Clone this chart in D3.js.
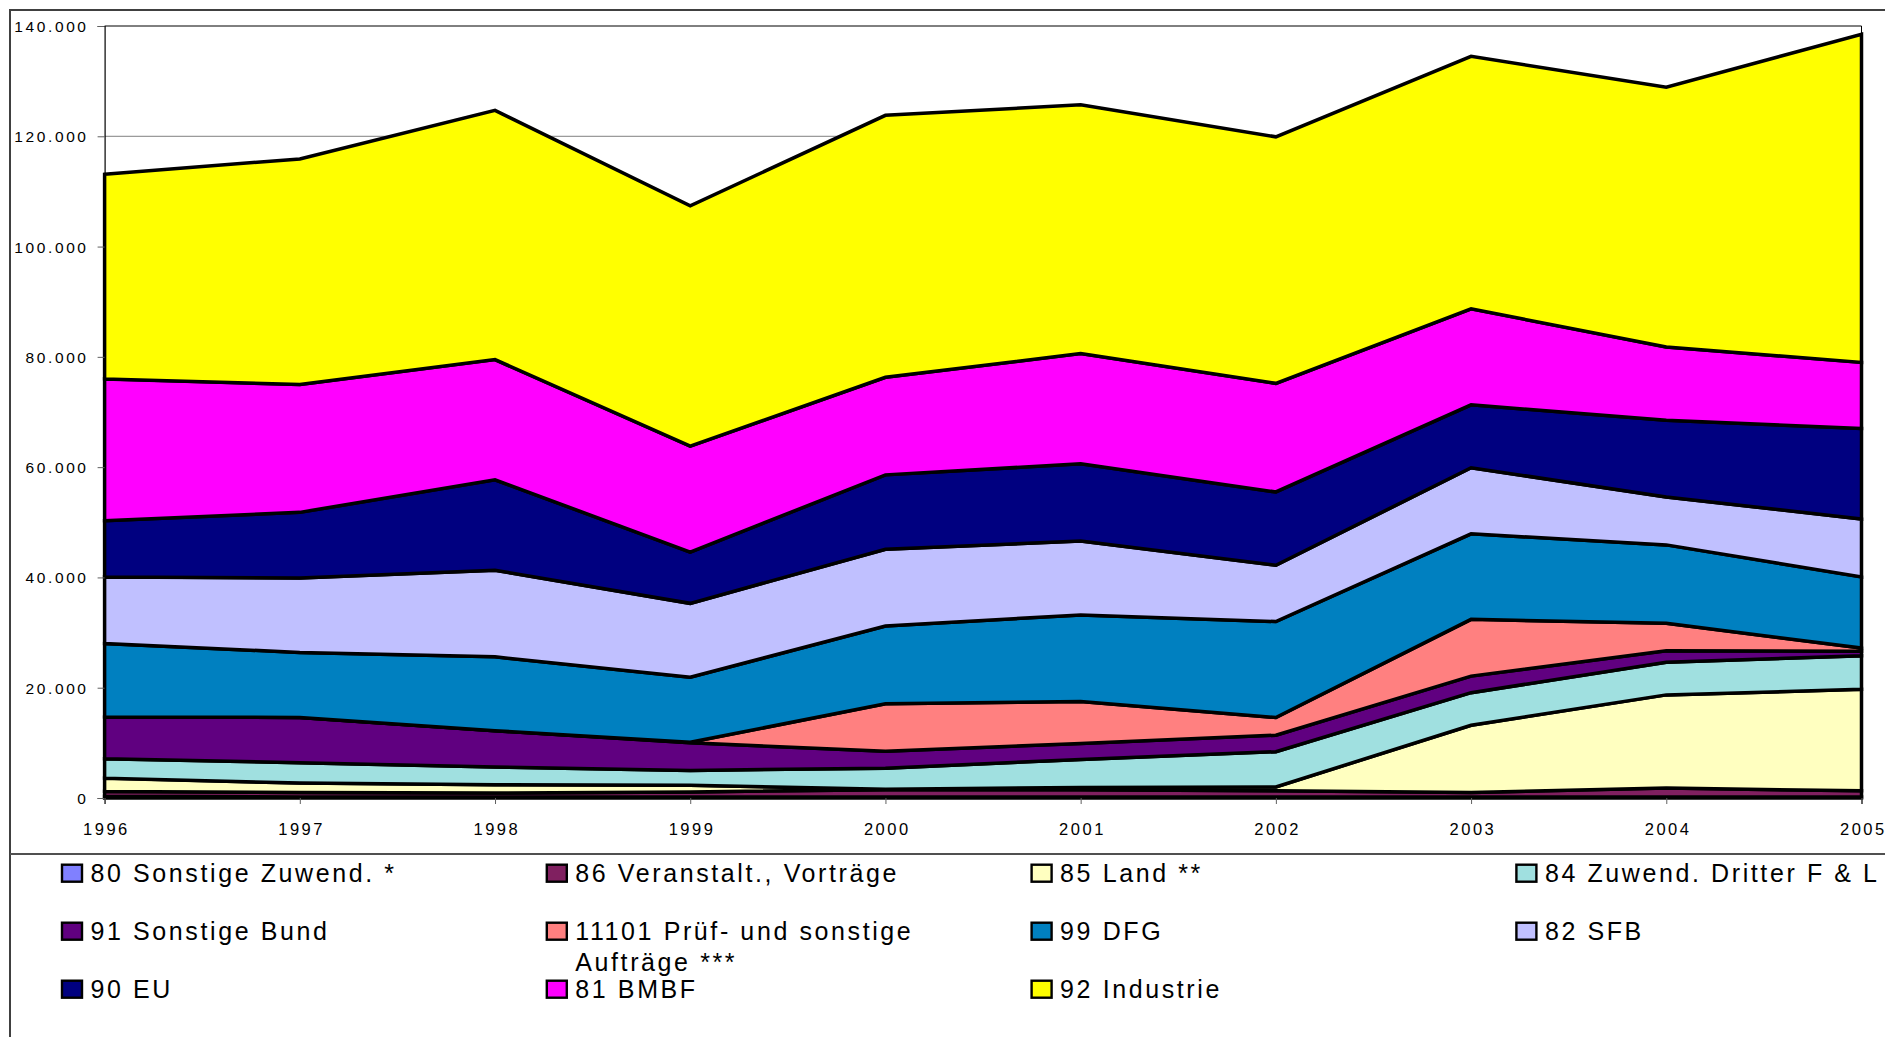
<!DOCTYPE html>
<html>
<head>
<meta charset="utf-8">
<script src="https://cdn.jsdelivr.net/npm/d3@7"></script>
<style>
  html, body { margin: 0; padding: 0; background: #fff; overflow: hidden; }
  svg { display: block; font-family: "Liberation Sans", Arial, sans-serif; }
</style>
</head>
<body>
<svg id="chart" width="1885" height="1037"></svg>
<script>
// values in EUR (stacked bottom -> top)
const years = [1996, 1997, 1998, 1999, 2000, 2001, 2002, 2003, 2004, 2005];
const yTicks = [0, 20000, 40000, 60000, 80000, 100000, 120000, 140000];

const sonstigeZuwend = [300, 200, 200, 200, 200, 200, 200, 200, 200, 200];
const veranstalt     = [900, 800, 700, 900, 1300, 1300, 1100, 800, 1600, 1100];
const land           = [2400, 1700, 1500, 1200, 100, 400, 700, 12200, 16900, 18400];
const zuwendDritter  = [3500, 3700, 3200, 2700, 3800, 5100, 6400, 5900, 5900, 6100];
const sonstigeBund   = [7600, 8200, 6600, 5000, 3100, 2900, 3000, 3000, 2100, 800];
const pruefAuftraege = [0, 0, 0, 100, 8600, 7600, 3200, 10300, 5000, 600];
const dfg            = [13300, 11800, 13400, 11800, 14100, 15700, 17400, 15500, 14200, 12900];
const sfb            = [12100, 13500, 15700, 13400, 13900, 13400, 10200, 12000, 8700, 10500];
const eu             = [10200, 11900, 16400, 9300, 13500, 14000, 13300, 11400, 13900, 16400];
const bmbf           = [25700, 23200, 21800, 19200, 17700, 20000, 19700, 17400, 13300, 12000];
const industrie      = [37100, 40900, 45200, 43600, 47500, 45100, 44700, 45800, 47100, 59500];

const seriesNames = [
  "80 Sonstige Zuwend. *", "86 Veranstalt., Vorträge", "85 Land **", "84 Zuwend. Dritter F & L",
  "91 Sonstige Bund", "11101 Prüf- und sonstige\nAufträge ***", "99 DFG", "82 SFB",
  "90 EU", "81 BMBF", "92 Industrie"
];
const seriesValues = [
  sonstigeZuwend, veranstalt, land, zuwendDritter, sonstigeBund, pruefAuftraege,
  dfg, sfb, eu, bmbf, industrie
];
const seriesColors = [
  "#8080FF", "#802060", "#FFFFC0", "#A0E0E0", "#600080", "#FF8080",
  "#0080C0", "#C0C0FF", "#000080", "#FF00FF", "#FFFF00"
];

const rows = years.map((year, i) => {
  const row = { year };
  seriesNames.forEach((name, s) => { row[name] = seriesValues[s][i]; });
  return row;
});

const deFormat = d3.formatLocale({ decimal: ",", thousands: ".", grouping: [3], currency: ["", " €"] }).format(",");

const svg = d3.select("#chart");
const plot = { left: 104.6, right: 1861.5, top: 26, bottom: 798 };

const x = d3.scaleLinear()
  .domain(d3.extent(years))
  .range([plot.left, plot.right]);

const y = d3.scaleLinear()
  .domain([0, 140000])
  .range([plot.bottom, plot.top]);

// outer chart border + legend box top
svg.append("path")
  .attr("d", "M10,1037 V10 H1885")
  .attr("fill", "none")
  .attr("stroke", "#404040")
  .attr("stroke-width", 2);

svg.append("line")
  .attr("x1", 10).attr("x2", 1885)
  .attr("y1", 854).attr("y2", 854)
  .attr("stroke", "#505050")
  .attr("stroke-width", 2);

// grid
svg.append("g")
  .selectAll("line")
  .data(yTicks.slice(1, -1))
  .join("line")
  .attr("x1", plot.left).attr("x2", plot.right)
  .attr("y1", (d) => y(d)).attr("y2", (d) => y(d))
  .attr("stroke", "#808080")
  .attr("stroke-width", 1);

// stacked areas
const stack = d3.stack().keys(seriesNames);
const layers = stack(rows);

const area = d3.area()
  .x((d) => x(d.data.year))
  .y0((d) => y(d[0]))
  .y1((d) => y(d[1]));

svg.append("g")
  .selectAll("path")
  .data(layers)
  .join("path")
  .attr("d", area)
  .attr("fill", (d, i) => seriesColors[i])
  .attr("stroke", "#000")
  .attr("stroke-width", 3.5)
  .attr("stroke-linejoin", "miter");

// plot frame (top + right)
svg.append("path")
  .attr("d", `M${plot.left},${plot.top} H${plot.right} V${plot.bottom}`)
  .attr("fill", "none")
  .attr("stroke", "#000")
  .attr("stroke-width", 1);

// y axis
const yAxis = svg.append("g")
  .attr("transform", `translate(${plot.left},0)`)
  .call(d3.axisLeft(y).tickValues(yTicks).tickSize(7).tickFormat(deFormat));
yAxis.select(".domain").attr("stroke", "#000").attr("stroke-width", 1.2);
yAxis.selectAll(".tick line").attr("stroke", "#606060");
yAxis.selectAll(".tick text")
  .attr("x", -16)
  .attr("dy", "0.35em")
  .attr("font-size", 15.5)
  .attr("letter-spacing", 2.6)
  .attr("fill", "#000")
  .attr("font-family", null);

// x axis
const xAxis = svg.append("g")
  .attr("transform", `translate(0,${plot.bottom})`)
  .call(d3.axisBottom(x).tickValues(years).tickSize(6).tickPadding(19.5).tickFormat(d3.format("d")));
xAxis.select(".domain").attr("stroke", "#000").attr("stroke-width", 1.2);
xAxis.selectAll(".tick line").attr("stroke", "#606060");
xAxis.selectAll(".tick text")
  .attr("x", 1.3)
  .attr("dy", "0.71em")
  .attr("font-size", 16.5)
  .attr("letter-spacing", 2.5)
  .attr("fill", "#000")
  .attr("font-family", null);

// legend: 4 columns, 3 rows
const legendCols = 4;
const legend = svg.append("g")
  .selectAll("g")
  .data(seriesNames)
  .join("g")
  .attr("transform", (d, i) => {
    const col = i % legendCols;
    const row = Math.floor(i / legendCols);
    return `translate(${62 + col * 484.8},${881.7 + row * 58})`;
  });

legend.append("rect")
  .attr("x", 0)
  .attr("y", -17)
  .attr("width", 20)
  .attr("height", 17)
  .attr("fill", (d, i) => seriesColors[i])
  .attr("stroke", "#000")
  .attr("stroke-width", 2.4);

legend.append("text")
  .attr("x", 28.5)
  .attr("font-size", 25)
  .attr("letter-spacing", 2.6)
  .attr("fill", "#000")
  .selectAll("tspan")
  .data((d) => d.split("\n"))
  .join("tspan")
  .attr("x", 28.5)
  .attr("y", (d, i) => i * 31.5)
  .text((d) => d);
</script>
</body>
</html>
